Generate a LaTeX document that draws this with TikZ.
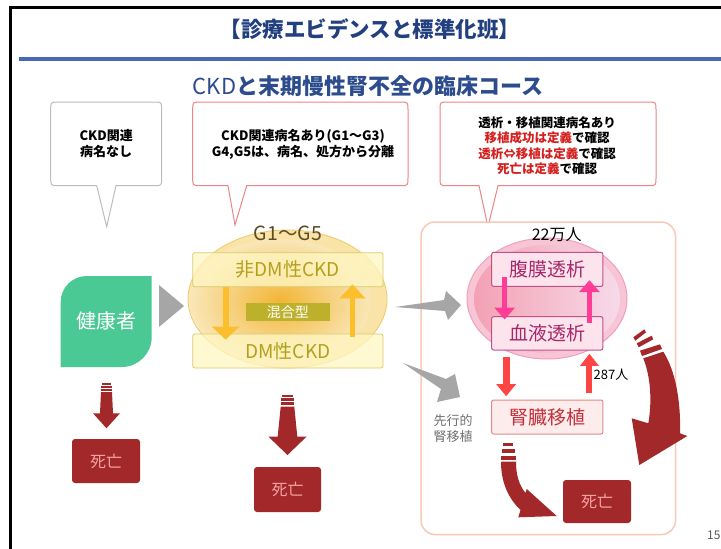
\documentclass[tikz,border=0pt]{standalone}
\usepackage{fontspec}
\setmainfont{Noto Sans CJK JP}
\usetikzlibrary{shapes.geometric,arrows.meta}
\definecolor{navy}{HTML}{22407F}
\definecolor{subblue}{HTML}{2D4C8E}
\definecolor{rulec}{HTML}{4A67B5}
\definecolor{cgray}{HTML}{BDBDBD}
\definecolor{cred}{HTML}{EE8585}
\definecolor{jred}{HTML}{D61F1F}
\definecolor{leaf}{HTML}{4BC994}
\definecolor{tri}{HTML}{A6A6A6}
\definecolor{dred}{HTML}{A3282A}
\definecolor{dtext}{HTML}{F4A3A3}
\definecolor{peach}{HTML}{F9C9B6}
\definecolor{ytext}{HTML}{B3A11E}
\definecolor{yfill}{HTML}{FFF7C4}
\definecolor{ybord}{HTML}{DCC96A}
\definecolor{olive}{HTML}{BDB02B}
\definecolor{yarrow}{HTML}{FBBE2C}
\definecolor{yring}{HTML}{F9E3A6}
\definecolor{yring2}{HTML}{EFCB68}
\definecolor{ycore}{HTML}{F2B536}
\definecolor{yedge}{HTML}{F9E7B8}
\definecolor{gtext}{HTML}{5E4B26}
\definecolor{ptext}{HTML}{A6276A}
\definecolor{pbord}{HTML}{C4508A}
\definecolor{pfill}{HTML}{FCE3EC}
\definecolor{pring}{HTML}{F7C5D6}
\definecolor{pringb}{HTML}{F0A0B8}
\definecolor{pleft}{HTML}{F3A1B3}
\definecolor{pright}{HTML}{F6DAEA}
\definecolor{parrow}{HTML}{FF3D97}
\definecolor{rarrow}{HTML}{FF4444}
\definecolor{ttext}{HTML}{C2303A}
\definecolor{tbord}{HTML}{E08A8A}
\definecolor{tfill}{HTML}{FDECEC}
\definecolor{graytext}{HTML}{707070}
\newcommand\mycallout[9]{\path[#1] (#2+8,#3) -- (#4-8,#3) .. controls (#4,#3) .. (#4,#3+8) -- (#4,#5-8) .. controls (#4,#5) .. (#4-8,#5) -- (#7,#5) -- (#8,#9) -- (#6,#5) -- (#2+8,#5) .. controls (#2,#5) .. (#2,#5-8) -- (#2,#3+8) .. controls (#2,#3) .. (#2+8,#3) -- cycle;}
\begin{document}
\begin{tikzpicture}[x=1pt,y=-1pt,
  callgray/.style={draw=cgray, line width=1pt, fill=white},
  callred/.style={draw=cred, line width=1pt, fill=white},
  ctext/.style={font=\fontsize{13}{16}\selectfont\bfseries, align=center, inner sep=0},
  ybox/.style={draw=ybord, line width=0.8pt, fill=yfill, fill opacity=0.75, text opacity=1, rounded corners=2pt, minimum width=190.3pt, minimum height=34pt, text=ytext, font=\fontsize{19}{22}\selectfont, inner sep=0},
  pbox/.style={draw=pbord, line width=1pt, fill=pfill, rounded corners=2pt, minimum width=111.3pt, minimum height=34pt, text=ptext, font=\fontsize{19}{22}\selectfont, inner sep=0},
  tbox/.style={draw=tbord, line width=1pt, fill=tfill, rounded corners=2pt, minimum width=111.3pt, minimum height=34pt, text=ttext, font=\fontsize{19}{22}\selectfont, inner sep=0},
  deathbox/.style={fill=dred, text=dtext, rounded corners=3pt, minimum width=68pt, minimum height=44pt, font=\fontsize{16}{18}\selectfont, inner sep=0},
  parr/.style={draw=parrow, line width=5pt, -{Triangle[length=12pt,width=20pt]}},
  rarr/.style={draw=rarrow, line width=7pt, -{Triangle[length=12pt,width=19pt]}},
  grayarrow/.style={fill=tri},
  dredshape/.style={fill=dred}
]
\useasboundingbox (0,0) rectangle (721,549);
\fill[white] (0,0) rectangle (721,549);
% frame and rule
\draw[line width=3pt] (10,549) -- (10,7) -- (721,7);
\draw[rulec, line width=4pt] (19,59) -- (721,59);
% titles
\node[text=navy, font=\fontsize{21.5}{24}\selectfont\bfseries, inner sep=0] (title) at (370,29) {【診療エビデンスと標準化班】};
\node[text=subblue, font=\fontsize{22}{24}\selectfont, inner sep=0] (subtitle) at (368,86) {CKD\textbf{と末期慢性腎不全の臨床コース}};
% callouts
\mycallout{callgray}{50.7}{102}{161.7}{185.7}{96.7}{116}{106.7}{226.7}
\mycallout{callred}{192.7}{102}{408}{185.7}{228}{246.7}{235}{225}
\mycallout{callred}{440}{102}{656}{185.7}{479}{498}{488}{226.7}
\node[ctext] (c1) at (106.2,143.7) {CKD関連\\病名なし};
\node[ctext] (c2) at (303,144) {CKD関連病名あり(G1～G3)\\G4,G5は、病名、処方から分離};
\node[ctext, font=\fontsize{12.5}{15.2}\selectfont\bfseries] (c3) at (547,145.8) {透析・移植関連病名あり\\\textcolor{jred}{移植成功は定義}で確認\\\textcolor{jred}{透析⇔移植は定義}で確認\\\textcolor{jred}{死亡は定義}で確認};
% pink container
\draw[peach, line width=1.5pt, fill=white, rounded corners=14pt] (421,222) rectangle (675.5,534.5);
% gray arrows
\fill[grayarrow] (395,307) -- (444,300) -- (446,291) -- (461,305) -- (448,320) -- (445,311) -- cycle;
\fill[grayarrow] (403,363) -- (446,379) -- (455,374) -- (460,397) -- (437,402) -- (441,389) -- cycle;
% healthy
\fill[leaf] (60.7,302) .. controls (60.7,287.65) and (72.35,276) .. (86.7,276) -- (151.7,276) -- (151.7,337) .. controls (151.7,353.6) and (138.3,367) .. (121.7,367) -- (60.7,367) -- cycle;
\node[text=white, font=\fontsize{20}{22}\selectfont, inner sep=0] (healthy) at (106.2,321) {健康者};
\fill[tri] (159,285) -- (184,306) -- (159,327) -- cycle;
% CKD ellipse
\node[ellipse, minimum width=199pt, minimum height=138pt, fill=yring, draw=yring2, line width=0.8pt, inner sep=0] (ckdell) at (287.5,299) {};
\shade[inner color=ycore, outer color=yedge] (280,301) ellipse [x radius=91pt, y radius=62pt];
\node[text=gtext, font=\fontsize{19.5}{22}\selectfont, inner sep=0] (grange) at (288,233.7) {G1～G5};
\node[ybox] (nd) at (287.9,269.7) {非DM性CKD};
\node[ybox] (dm) at (287.9,351) {DM性CKD};
\node[fill=olive, text=white, minimum width=84.3pt, minimum height=18pt, inner sep=0, font=\fontsize{14}{16}\selectfont] (mix) at (287.9,311.7) {混合型};
\draw[yarrow, line width=6pt, -{Triangle[length=13pt,width=27pt]}] ([xshift=33.3pt]nd.south west) -- ([xshift=33.3pt,yshift=-6pt]dm.north west);
\draw[yarrow, line width=5pt, -{Triangle[length=14pt,width=25pt]}] ([xshift=-31pt,yshift=-3pt]dm.north east) -- ([xshift=-31pt,yshift=2.7pt]nd.south east);
% dialysis ellipse
\node[ellipse, minimum width=160pt, minimum height=121pt, fill=pring, draw=pringb, line width=1pt, inner sep=0] (dell) at (547,298.5) {};
\shade[left color=pleft, right color=pright] (547,299) ellipse [x radius=73pt, y radius=54pt];
\node[font=\fontsize{16}{18}\selectfont, inner sep=0] (n22) at (556.7,234.5) {22万人};
\node[pbox] (pd) at (547.3,269.35) {腹膜透析};
\node[pbox, minimum height=33.3pt] (hd) at (547.3,333.35) {血液透析};
\node[tbox] (tx) at (547.3,417) {腎臓移植};
\draw[parr] ([xshift=13.5pt,yshift=10pt]pd.south west) -- ([xshift=13.5pt,yshift=-3.3pt]hd.north west);
\draw[parr] ([xshift=-14pt,yshift=-6.3pt]hd.north east) -- ([xshift=-14pt,yshift=6.7pt]pd.south east);
\draw[rarr] ([xshift=15pt,yshift=-6.7pt]hd.south west) -- ([xshift=15pt,yshift=3.3pt]tx.north west);
\draw[rarr, line width=6pt, -{Triangle[length=12pt,width=18pt]}] ([xshift=-14pt,yshift=6.7pt]tx.north east) -- ([xshift=-14pt,yshift=-3.3pt]hd.south east);
\node[font=\fontsize{13}{15}\selectfont, inner sep=0] (n287) at (611,375) {287人};
\node[text=graytext, align=center, font=\fontsize{13}{16}\selectfont, inner sep=0] (pre) at (453,429) {先行的\\腎移植};
% death boxes
\node[deathbox] (death1) at (106,461) {死亡};
\node[deathbox, minimum width=67pt, minimum height=45pt] (death2) at (287.5,489.5) {死亡};
\node[deathbox, minimum height=43pt] (death3) at (597,501.5) {死亡};
% striped down arrows
\fill[dredshape] (101.7,383.3) rectangle (111.3,385);
\fill[dredshape] (101.3,386.2) rectangle (111.7,387.9);
\fill[dredshape] (101,389) rectangle (112,391);
\fill[dredshape] (101,392) -- (112,392) -- (113,413.3) -- (120,413.3) -- (106.5,428.3) -- (93,413.3) -- (100,413.3) -- cycle;
\fill[dredshape] (281.7,395) rectangle (293.3,396.7);
\fill[dredshape] (281.2,398.3) rectangle (293.8,400.7);
\fill[dredshape] (280.8,402.3) rectangle (294.2,405.3);
\fill[dredshape] (280.7,406.7) -- (294.3,406.7) -- (297.3,436.7) -- (306.5,436.7) -- (287.5,455) -- (268.5,436.7) -- (277.7,436.7) -- cycle;
% big curved arrow right
\fill[dredshape] (633.3,337.3) -- (644.3,329.3) -- (646,332.3) -- (635.3,340.7) -- cycle;
\fill[dredshape] (636.7,343.3) -- (651.7,335.7) -- (653.3,339.3) -- (638.7,347.3) -- cycle;
\fill[dredshape] (640,350.7) -- (660,344.3) -- (662,349) -- (642,356) -- cycle;
\fill[dredshape] (643.3,358.3) -- (663.3,351.7) .. controls (675,370) and (681,400) .. (680,433.3) -- (687.3,436) -- (639.3,465) -- (631.7,418.3) -- (648.3,423.3) .. controls (652,402) and (651,378) .. (643.3,358.3) -- cycle;
% bottom curved arrow
\fill[dredshape] (503,443) rectangle (513,446);
\fill[dredshape] (501.7,448.5) rectangle (515,452.5);
\fill[dredshape] (501,455.5) rectangle (516,459.5);
\fill[dredshape] (501,461.7) -- (516,461.7) .. controls (516,475) and (519,485) .. (525.5,493) -- (526.7,489) -- (556.7,516) -- (518.3,517.3) -- (520.5,510) .. controls (508,498) and (501,482) .. (501,461.7) -- cycle;
% page number
\node[anchor=west, text=black!65, font=\fontsize{12}{14}\selectfont, inner sep=0] (pageno) at (707,535) {15};
\end{tikzpicture}
\end{document}
